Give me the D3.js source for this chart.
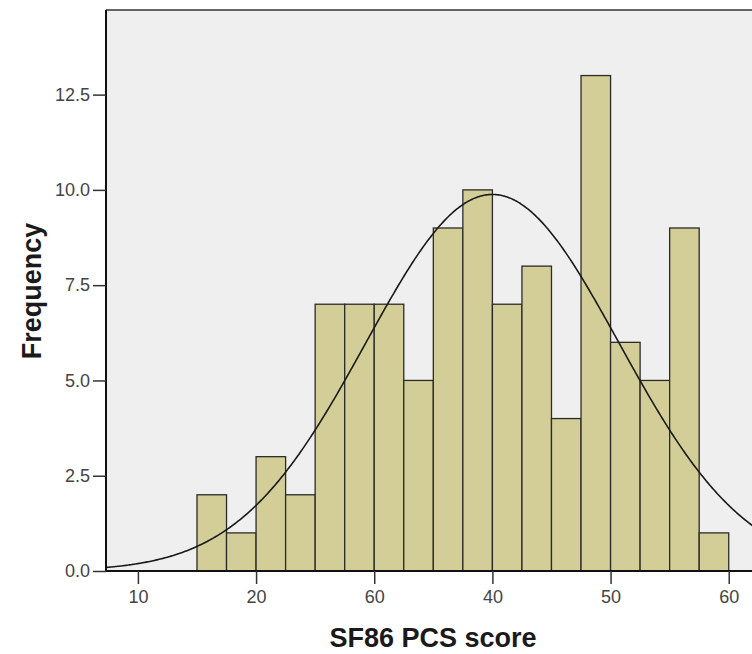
<!DOCTYPE html>
<html>
<head>
<meta charset="utf-8">
<script src="https://cdn.jsdelivr.net/npm/d3@7"></script>
<style>
  body { margin: 0; background: #fff; }
  svg { display: block; font-family: Arial, "Liberation Sans", sans-serif; }
</style>
</head>
<body>
<div id="chart"></div>
<script>
// bin edges (lower bound) and counts
const binStarts = [15, 17.5, 20, 22.5, 25, 27.5, 30, 32.5, 35, 37.5, 40, 42.5, 45, 47.5, 50, 52.5, 55, 57.5];
const counts    = [2, 1, 3, 2, 7, 7, 7, 5, 9, 10, 7, 8, 4, 13, 6, 5, 9, 1];
const binWidth = 2.5;

// normal curve parameters
const curveMean = 40.0;
const curveSD = 10.7;

const xTickValues = [10, 20, 30, 40, 50, 60];
const xTickLabels = ["10", "20", "60", "40", "50", "60"];
const yTickValues = [0, 2.5, 5, 7.5, 10, 12.5];
const yTickLabels = ["0.0", "2.5", "5.0", "7.5", "10.0", "12.5"];

const width = 752, height = 654;
const plotLeft = 106, plotTop = 10, plotBottom = 571, plotRight = 763;

const svg = d3.select("#chart")
  .append("svg")
  .attr("width", width)
  .attr("height", height);

const x = d3.scaleLinear().domain([7.3, 62.9]).range([plotLeft, plotRight]);
const y = d3.scaleLinear().domain([0, 14.72]).range([plotBottom, plotTop]);

svg.append("defs").append("clipPath")
  .attr("id", "plotclip")
  .append("rect")
  .attr("x", plotLeft).attr("y", plotTop)
  .attr("width", plotRight - plotLeft).attr("height", plotBottom - plotTop);

// plot background
svg.append("rect")
  .attr("x", plotLeft).attr("y", plotTop)
  .attr("width", plotRight - plotLeft).attr("height", plotBottom - plotTop)
  .attr("fill", "#efefef");

svg.append("line")
  .attr("x1", plotLeft).attr("x2", plotRight)
  .attr("y1", plotTop).attr("y2", plotTop)
  .attr("stroke", "#333").attr("stroke-width", 1.5);

// bars
const bins = binStarts.map((s, i) => ({ x0: s, x1: s + binWidth, n: counts[i] }));
svg.append("g")
  .selectAll("rect")
  .data(bins)
  .enter()
  .append("rect")
  .attr("x", d => x(d.x0))
  .attr("y", d => y(d.n))
  .attr("width", d => x(d.x1) - x(d.x0))
  .attr("height", d => y(0) - y(d.n))
  .attr("fill", "#d3ce97")
  .attr("stroke", "#2b2b2b")
  .attr("stroke-width", 1.3);

// normal curve
const total = d3.sum(counts);
const normal = v => total * binWidth / (curveSD * Math.sqrt(2 * Math.PI)) *
  Math.exp(-0.5 * Math.pow((v - curveMean) / curveSD, 2));
const curvePts = d3.range(7.3, 62.95, 0.1);
svg.append("path")
  .datum(curvePts)
  .attr("clip-path", "url(#plotclip)")
  .attr("fill", "none")
  .attr("stroke", "#1a1a1a")
  .attr("stroke-width", 1.6)
  .attr("d", d3.line().x(d => x(d)).y(d => y(normal(d))).curve(d3.curveBasis));

// axes
const xAxis = svg.append("g")
  .attr("transform", `translate(0,${plotBottom})`)
  .call(d3.axisBottom(x)
    .tickValues(xTickValues)
    .tickFormat((d, i) => xTickLabels[i])
    .tickSize(13)
    .tickPadding(6));
xAxis.select(".domain").attr("stroke", "#111").attr("stroke-width", 2)
  .attr("d", `M${plotLeft},0H${plotRight}`);

const yAxis = svg.append("g")
  .attr("transform", `translate(${plotLeft},0)`)
  .call(d3.axisLeft(y)
    .tickValues(yTickValues)
    .tickFormat((d, i) => yTickLabels[i])
    .tickSize(13)
    .tickPadding(3));
yAxis.select(".domain").attr("stroke", "#111").attr("stroke-width", 2)
  .attr("d", `M0,${plotTop}V${plotBottom}`);

svg.selectAll(".tick line").attr("stroke", "#333").attr("stroke-width", 1.5);
svg.selectAll(".tick text")
  .attr("font-size", 18)
  .attr("font-family", "Arial, 'Liberation Sans', sans-serif")
  .attr("fill", "#444");

// axis titles
svg.append("text")
  .attr("x", 433)
  .attr("y", 647)
  .attr("text-anchor", "middle")
  .attr("font-size", 27)
  .attr("font-weight", "bold")
  .attr("fill", "#1a1a1a")
  .text("SF86 PCS score");

svg.append("text")
  .attr("transform", "translate(41,291) rotate(-90)")
  .attr("text-anchor", "middle")
  .attr("font-size", 27)
  .attr("font-weight", "bold")
  .attr("fill", "#1a1a1a")
  .text("Frequency");
</script>
</body>
</html>
